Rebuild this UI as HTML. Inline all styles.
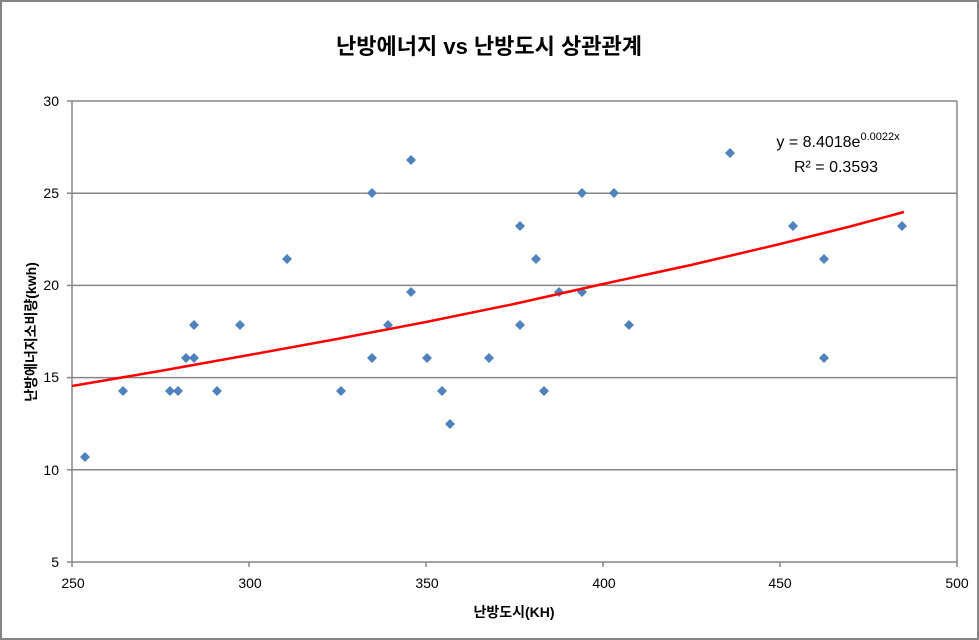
<!DOCTYPE html>
<html><head><meta charset="utf-8"><style>
html,body{margin:0;padding:0;background:#fff}
svg{display:block}
text{font-family:"Liberation Sans","Noto Sans CJK KR",sans-serif}
</style></head><body>
<svg width="979" height="640" viewBox="0 0 979 640">
<rect x="1" y="1" width="977" height="638" fill="#fff" stroke="#868686" stroke-width="2"/>
<text x="489" y="54" text-anchor="middle" font-size="22" font-weight="bold" fill="#000">난방에너지 vs 난방도시 상관관계</text>
<g stroke="#868686" stroke-width="1.5">
<line x1="72" y1="101" x2="957" y2="101"/>
<line x1="72" y1="193.2" x2="957" y2="193.2"/>
<line x1="72" y1="285.4" x2="957" y2="285.4"/>
<line x1="72" y1="377.6" x2="957" y2="377.6"/>
<line x1="72" y1="469.8" x2="957" y2="469.8"/>
<line x1="957" y1="101" x2="957" y2="562"/>
<line x1="72" y1="101" x2="72" y2="562"/>
<line x1="67" y1="562" x2="957" y2="562"/>
<line x1="67" y1="101" x2="72" y2="101"/><line x1="67" y1="193.2" x2="72" y2="193.2"/><line x1="67" y1="285.4" x2="72" y2="285.4"/><line x1="67" y1="377.6" x2="72" y2="377.6"/><line x1="67" y1="469.8" x2="72" y2="469.8"/>
<line x1="72" y1="562" x2="72" y2="567"/><line x1="249" y1="562" x2="249" y2="567"/><line x1="426" y1="562" x2="426" y2="567"/><line x1="603" y1="562" x2="603" y2="567"/><line x1="780" y1="562" x2="780" y2="567"/><line x1="957" y1="562" x2="957" y2="567"/>
</g>
<g font-size="14" fill="#000" text-anchor="end">
<text x="59" y="106">30</text><text x="59" y="198">25</text><text x="59" y="290">20</text><text x="59" y="382">15</text><text x="59" y="475">10</text><text x="59" y="567">5</text>
</g>
<g font-size="14" fill="#000" text-anchor="middle">
<text x="73" y="588">250</text><text x="250" y="588">300</text><text x="427" y="588">350</text><text x="604" y="588">400</text><text x="780" y="588">450</text><text x="957" y="588">500</text>
</g>
<text x="514" y="617" text-anchor="middle" font-size="14" font-weight="bold">난방도시(KH)</text>
<text transform="translate(36,332) rotate(-90)" text-anchor="middle" font-size="14" font-weight="bold">난방에너지소비량(kwh)</text>
<g fill="#4f81bd">
<path d="M0,-5L5,0L0,5L-5,0Z" transform="translate(85,457)"/>
<path d="M0,-5L5,0L0,5L-5,0Z" transform="translate(123,391)"/>
<path d="M0,-5L5,0L0,5L-5,0Z" transform="translate(170,391)"/>
<path d="M0,-5L5,0L0,5L-5,0Z" transform="translate(178,391)"/>
<path d="M0,-5L5,0L0,5L-5,0Z" transform="translate(186,358)"/>
<path d="M0,-5L5,0L0,5L-5,0Z" transform="translate(194,358)"/>
<path d="M0,-5L5,0L0,5L-5,0Z" transform="translate(194,325)"/>
<path d="M0,-5L5,0L0,5L-5,0Z" transform="translate(217,391)"/>
<path d="M0,-5L5,0L0,5L-5,0Z" transform="translate(240,325)"/>
<path d="M0,-5L5,0L0,5L-5,0Z" transform="translate(287,259)"/>
<path d="M0,-5L5,0L0,5L-5,0Z" transform="translate(341,391)"/>
<path d="M0,-5L5,0L0,5L-5,0Z" transform="translate(372,193)"/>
<path d="M0,-5L5,0L0,5L-5,0Z" transform="translate(372,358)"/>
<path d="M0,-5L5,0L0,5L-5,0Z" transform="translate(388,325)"/>
<path d="M0,-5L5,0L0,5L-5,0Z" transform="translate(411,160)"/>
<path d="M0,-5L5,0L0,5L-5,0Z" transform="translate(411,292)"/>
<path d="M0,-5L5,0L0,5L-5,0Z" transform="translate(427,358)"/>
<path d="M0,-5L5,0L0,5L-5,0Z" transform="translate(442,391)"/>
<path d="M0,-5L5,0L0,5L-5,0Z" transform="translate(450,424)"/>
<path d="M0,-5L5,0L0,5L-5,0Z" transform="translate(489,358)"/>
<path d="M0,-5L5,0L0,5L-5,0Z" transform="translate(520,226)"/>
<path d="M0,-5L5,0L0,5L-5,0Z" transform="translate(520,325)"/>
<path d="M0,-5L5,0L0,5L-5,0Z" transform="translate(536,259)"/>
<path d="M0,-5L5,0L0,5L-5,0Z" transform="translate(544,391)"/>
<path d="M0,-5L5,0L0,5L-5,0Z" transform="translate(559,292)"/>
<path d="M0,-5L5,0L0,5L-5,0Z" transform="translate(582,193)"/>
<path d="M0,-5L5,0L0,5L-5,0Z" transform="translate(582,292)"/>
<path d="M0,-5L5,0L0,5L-5,0Z" transform="translate(614,193)"/>
<path d="M0,-5L5,0L0,5L-5,0Z" transform="translate(629,325)"/>
<path d="M0,-5L5,0L0,5L-5,0Z" transform="translate(730,153)"/>
<path d="M0,-5L5,0L0,5L-5,0Z" transform="translate(793,226)"/>
<path d="M0,-5L5,0L0,5L-5,0Z" transform="translate(824,259)"/>
<path d="M0,-5L5,0L0,5L-5,0Z" transform="translate(824,358)"/>
<path d="M0,-5L5,0L0,5L-5,0Z" transform="translate(902,226)"/>
</g>
<polyline fill="none" stroke="#ff0000" stroke-width="2.5" points="72,386 160,371 249,355 337,339 426,322 514,304 603,284 691,265 780,244 850,226.5 904,212"/>
<text x="838" y="147" text-anchor="middle" font-size="16">y = 8.4018e<tspan font-size="11" dy="-7">0.0022x</tspan></text>
<text x="836" y="172" text-anchor="middle" font-size="16">R² = 0.3593</text>
</svg>
</body></html>
